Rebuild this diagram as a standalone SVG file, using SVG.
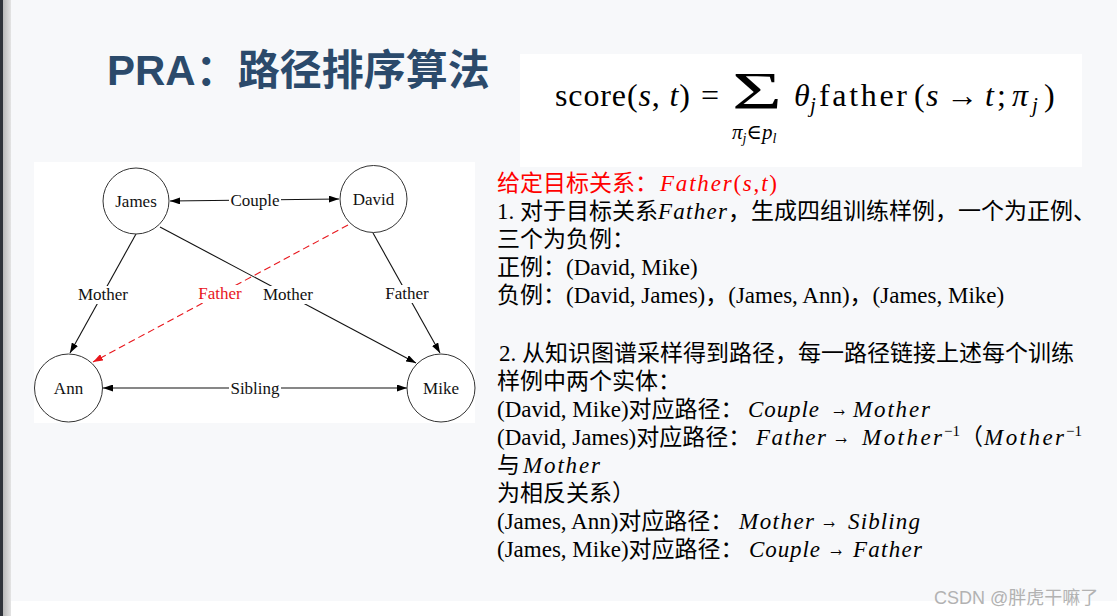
<svg xmlns="http://www.w3.org/2000/svg" width="1117" height="616" viewBox="0 0 1117 616">
<defs>
  <linearGradient id="edge" x1="0" y1="0" x2="1" y2="0">
    <stop offset="0" stop-color="#b9b9b9"/>
    <stop offset="1" stop-color="#e4e4e4"/>
  </linearGradient>
  <marker id="arr" viewBox="0 0 10 7" refX="10" refY="3.5" markerWidth="10" markerHeight="7" markerUnits="userSpaceOnUse" orient="auto-start-reverse">
    <path d="M0,0 L10,3.5 L0,7 z" fill="#000"/>
  </marker>
  <marker id="arrR" viewBox="0 0 10 7" refX="10" refY="3.5" markerWidth="10" markerHeight="7" markerUnits="userSpaceOnUse" orient="auto-start-reverse">
    <path d="M0,0 L10,3.5 L0,7 z" fill="#e8161c"/>
  </marker>
  <style>
    .title{font-family:"Liberation Sans","Noto Sans CJK SC",sans-serif;font-weight:bold;font-size:42px;fill:#2b4a6b}
    .f{font-family:"Liberation Serif","DejaVu Serif",serif;font-size:32px;fill:#000}
    .fi{font-style:italic}
    .t{font-family:"Liberation Serif","Noto Sans CJK SC",serif;font-size:23px;fill:#000}
    .mi{font-family:"Liberation Serif",serif;font-style:italic;font-size:23px;fill:#000}
    .up{font-style:normal}
    .ar{font-family:"Liberation Serif","DejaVu Serif",serif;font-size:23px;fill:#000}
    .sup{font-family:"Liberation Serif",serif;font-size:15px;fill:#000}
    .red{fill:#f00}
    .node circle{fill:#fff;stroke:#333;stroke-width:1}
    .lbl{font-family:"Liberation Serif",serif;font-size:17px;fill:#111;text-anchor:middle}
    .edge{stroke:#111;stroke-width:1.1;fill:none}
    .lbg{fill:#fff}
  </style>
</defs>

<!-- background -->
<rect x="0" y="0" width="1117" height="616" fill="#f7f8fa"/>
<rect x="11" y="601" width="1106" height="15" fill="#fff"/>
<rect x="0" y="0" width="3" height="616" fill="#30343b"/>
<rect x="3" y="0" width="8" height="616" fill="url(#edge)"/>

<!-- title -->
<text class="title" x="107" y="85">PRA：路径排序算法</text>

<!-- formula -->
<g id="formula">
  <rect x="520" y="54" width="562" height="113" fill="#fff"/>
  <text class="f" x="555" y="106" textLength="135" lengthAdjust="spacing">score(<tspan class="fi">s</tspan>, <tspan class="fi">t</tspan>)</text>
  <text class="f" x="701" y="106">=</text>
  <text class="f" x="732" y="109" style="font-size:52px" textLength="50" lengthAdjust="spacingAndGlyphs">Σ</text>
  <text class="f fi" x="732" y="139" style="font-size:21px">π<tspan style="font-size:14px" dy="4">j</tspan><tspan class="up" dy="-4">∈</tspan>p<tspan style="font-size:14px" dy="4">l</tspan></text>
  <text class="f fi" x="794" y="106">θ</text>
  <text class="f fi" x="810" y="112" style="font-size:21px">j</text>
  <text class="f" x="819" y="106" textLength="88" lengthAdjust="spacing">father</text>
  <text class="f" x="914" y="106">(</text>
  <text class="f fi" x="926" y="106">s</text>
  <text class="f" x="946" y="106" textLength="32" lengthAdjust="spacingAndGlyphs">→</text>
  <text class="f fi" x="985" y="106">t</text>
  <text class="f" x="997" y="106">;</text>
  <text class="f fi" x="1012" y="106">π</text>
  <text class="f fi" x="1032" y="112" style="font-size:21px">j</text>
  <text class="f" x="1044" y="106">)</text>
</g>

<!-- graph picture -->
<rect x="34" y="162" width="441" height="261" fill="#fff"/>

<g id="connectors">
  <line class="edge" x1="170" y1="201" x2="339" y2="199" marker-start="url(#arr)" marker-end="url(#arr)"/>
  <line class="edge" x1="103" y1="388" x2="407" y2="388" marker-start="url(#arr)" marker-end="url(#arr)"/>
  <line class="edge" x1="136" y1="234" x2="70" y2="353" marker-end="url(#arr)"/>
  <line class="edge" x1="160" y1="227" x2="416" y2="363" marker-end="url(#arr)"/>
  <line class="edge" x1="373" y1="233" x2="440" y2="353" marker-end="url(#arr)"/>
  <line x1="348" y1="225" x2="93" y2="362" stroke="#e8161c" stroke-width="1.1" stroke-dasharray="7,4" marker-end="url(#arrR)"/>
  <rect class="lbg" x="229" y="191" width="52" height="18"/>
  <text class="lbl" x="255" y="206">Couple</text>
  <rect class="lbg" x="229" y="379" width="52" height="18"/>
  <text class="lbl" x="255" y="394">Sibling</text>
  <rect class="lbg" x="76" y="286" width="54" height="18"/>
  <text class="lbl" x="103" y="300">Mother</text>
  <rect class="lbg" x="261" y="286" width="54" height="18"/>
  <text class="lbl" x="288" y="300">Mother</text>
  <rect class="lbg" x="197" y="285" width="47" height="18"/>
  <text class="lbl" x="220" y="299" style="fill:#e8161c">Father</text>
  <rect class="lbg" x="384" y="285" width="47" height="18"/>
  <text class="lbl" x="407" y="299">Father</text>
</g>

<g id="node-james" class="node">
  <circle cx="136" cy="201" r="33"/>
  <text class="lbl" x="136" y="207">James</text>
</g>
<g id="node-david" class="node">
  <circle cx="373.5" cy="199" r="33.5"/>
  <text class="lbl" x="373.5" y="205">David</text>
</g>
<g id="node-ann" class="node">
  <circle cx="68.5" cy="388" r="34"/>
  <text class="lbl" x="68.5" y="394">Ann</text>
</g>
<g id="node-mike" class="node">
  <circle cx="441" cy="388" r="34"/>
  <text class="lbl" x="441" y="394">Mike</text>
</g>

<!-- explanation text -->
<g id="notes">
  <text class="t red" x="497" y="191">给定目标关系：</text>
  <text class="mi red" x="660" y="191" textLength="117" lengthAdjust="spacing">Father<tspan class="up">(</tspan>s<tspan class="up">,</tspan>t<tspan class="up">)</tspan></text>

  <text class="t" x="497" y="219">1. 对于目标关系</text>
  <text class="mi" x="658" y="219" textLength="69" lengthAdjust="spacing">Father</text>
  <text class="t" x="728" y="219">，生成四组训练样例，一个为正例、</text>

  <text class="t" x="497" y="247">三个为负例：</text>
  <text class="t" x="497" y="275">正例：(David, Mike)</text>
  <text class="t" x="497" y="303">负例：(David, James)，(James, Ann)，(James, Mike)</text>

  <text class="t" x="499" y="361">2. 从知识图谱采样得到路径，每一路径链接上述每个训练</text>
  <text class="t" x="497" y="389">样例中两个实体：</text>

  <text class="t" x="497" y="417">(David, Mike)对应路径：</text>
  <text class="mi" x="748" y="417" textLength="71" lengthAdjust="spacing">Couple</text>
  <text class="ar" x="830" y="416" textLength="18" lengthAdjust="spacingAndGlyphs">→</text>
  <text class="mi" x="853" y="417" textLength="77" lengthAdjust="spacing">Mother</text>

  <text class="t" x="497" y="445">(David, James)对应路径：</text>
  <text class="mi" x="756" y="445" textLength="70" lengthAdjust="spacing">Father</text>
  <text class="ar" x="832" y="444" textLength="18" lengthAdjust="spacingAndGlyphs">→</text>
  <text class="mi" x="862" y="445" textLength="80" lengthAdjust="spacing">Mother</text>
  <text class="sup" x="944" y="436">−1</text>
  <text class="t" x="960" y="445">（</text>
  <text class="mi" x="984" y="445" textLength="80" lengthAdjust="spacing">Mother</text>
  <text class="sup" x="1066" y="436">−1</text>

  <text class="t" x="497" y="473">与</text>
  <text class="mi" x="523" y="473" textLength="77" lengthAdjust="spacing">Mother</text>
  <text class="t" x="497" y="501">为相反关系）</text>

  <text class="t" x="497" y="529">(James, Ann)对应路径：</text>
  <text class="mi" x="739" y="529" textLength="75" lengthAdjust="spacing">Mother</text>
  <text class="ar" x="820" y="528" textLength="18" lengthAdjust="spacingAndGlyphs">→</text>
  <text class="mi" x="848" y="529" textLength="72" lengthAdjust="spacing">Sibling</text>

  <text class="t" x="497" y="557">(James, Mike)对应路径：</text>
  <text class="mi" x="749" y="557" textLength="71" lengthAdjust="spacing">Couple</text>
  <text class="ar" x="827" y="556" textLength="18" lengthAdjust="spacingAndGlyphs">→</text>
  <text class="mi" x="853" y="557" textLength="69" lengthAdjust="spacing">Father</text>
</g>

<text x="934" y="604" style="font-family:'Liberation Sans','Noto Sans CJK SC',sans-serif;font-size:18px;fill:#b2b2b2">CSDN @胖虎干嘛了</text>
</svg>
